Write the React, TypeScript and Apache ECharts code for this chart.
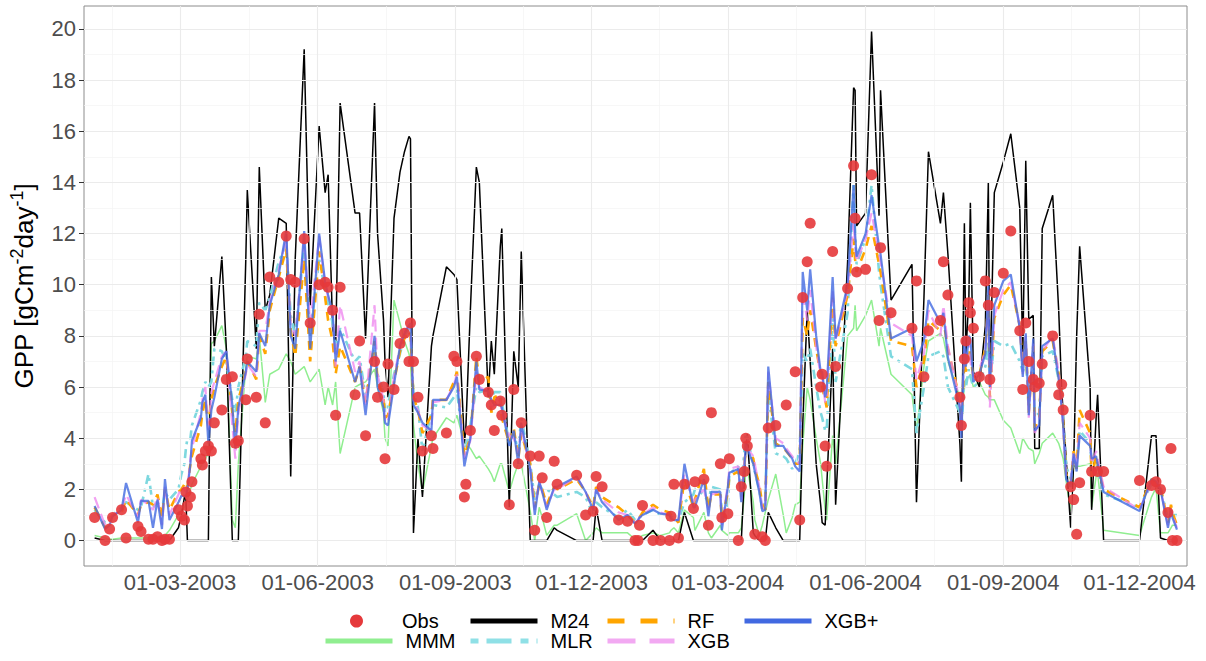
import { useEffect, useRef } from "react";
import * as echarts from "echarts";

// Sampling dates of the GPP series
const dates = [
  "2003-01-03","2003-01-10","2003-01-13","2003-01-15","2003-01-21","2003-01-24","2003-02-01","2003-02-03","2003-02-08","2003-02-11",
  "2003-02-14","2003-02-17","2003-02-19","2003-02-22","2003-02-28","2003-03-02","2003-03-04","2003-03-05","2003-03-06","2003-03-08",
  "2003-03-09","2003-03-15","2003-03-16","2003-03-18","2003-03-20","2003-03-22","2003-03-24","2003-03-29","2003-04-01","2003-04-05",
  "2003-04-07","2003-04-09","2003-04-14","2003-04-15","2003-04-21","2003-04-23","2003-04-27","2003-04-30","2003-05-06","2003-05-11",
  "2003-05-14","2003-05-17","2003-05-23","2003-05-27","2003-06-02","2003-06-06","2003-06-08","2003-06-11","2003-06-13","2003-06-16",
  "2003-06-26","2003-06-29","2003-07-03","2003-07-09","2003-07-11","2003-07-15","2003-07-16","2003-07-18","2003-07-22","2003-07-26",
  "2003-07-29","2003-08-01","2003-08-02","2003-08-04","2003-08-07","2003-08-10","2003-08-16","2003-08-17","2003-08-26","2003-08-31",
  "2003-09-02","2003-09-07","2003-09-08","2003-09-11","2003-09-15","2003-09-17","2003-09-23","2003-09-25","2003-09-27","2003-10-01",
  "2003-10-02","2003-10-07","2003-10-10","2003-10-13","2003-10-15","2003-10-21","2003-10-24","2003-10-27","2003-10-29","2003-11-01",
  "2003-11-06","2003-11-08","2003-11-21","2003-11-27","2003-12-02","2003-12-04","2003-12-08","2003-12-19","2003-12-25","2003-12-30",
  "2004-01-01","2004-01-02","2004-01-04","2004-01-11","2004-01-16","2004-01-22","2004-01-23","2004-01-25","2004-01-28","2004-02-01",
  "2004-02-07","2004-02-08","2004-02-14","2004-02-17","2004-02-19","2004-02-25","2004-02-26","2004-03-01","2004-03-02","2004-03-08",
  "2004-03-10","2004-03-12","2004-03-13","2004-03-14","2004-03-18","2004-03-19","2004-03-22","2004-03-24","2004-03-26","2004-03-28",
  "2004-04-02","2004-04-07","2004-04-09","2004-04-13","2004-04-15","2004-04-18","2004-04-20","2004-04-23","2004-04-25","2004-04-29",
  "2004-05-02","2004-05-03","2004-05-05","2004-05-06","2004-05-10","2004-05-12","2004-05-20","2004-05-24","2004-05-25","2004-05-26",
  "2004-06-01","2004-06-05","2004-06-10","2004-06-11","2004-06-18","2004-07-02","2004-07-05","2004-07-10","2004-07-13","2004-07-21",
  "2004-07-23","2004-07-26","2004-08-03","2004-08-04","2004-08-06","2004-08-07","2004-08-09","2004-08-10","2004-08-12","2004-08-16",
  "2004-08-20","2004-08-22","2004-08-23","2004-08-26","2004-09-01","2004-09-06","2004-09-12","2004-09-14","2004-09-16","2004-09-18",
  "2004-09-21","2004-09-22","2004-09-25","2004-09-27","2004-10-04","2004-10-08","2004-10-10","2004-10-11","2004-10-13","2004-10-16",
  "2004-10-18","2004-10-20","2004-10-22","2004-10-29","2004-10-30","2004-11-02","2004-11-03","2004-11-07","2004-12-01","2004-12-09",
  "2004-12-12","2004-12-15","2004-12-20","2004-12-22","2004-12-23","2004-12-26",
];

// Observed GPP (null = no observation on that date)
const obs = [
  0.9, 0, 0.45, 0.9, 1.2, 0.1, 0.55, 0.35, 0.05, 0.05,
  0.15, 0, 0.05, 0.05, 1.2, 0.95, 0.8, 1.9, 1.35, 1.7,
  2.3, 3.2, 2.95, 3.5, 3.7, 3.5, 4.6, 5.1, 6.3, 6.4,
  3.8, 3.9, 5.5, 7.1, 5.6, 8.85, 4.6, 10.3, 10.1, 11.9,
  10.2, 10.1, 11.8, 8.5, 10.0, 10.1, 9.9, 9.0, 4.9, 9.9,
  5.7, 7.8, 4.1, 7.0, 5.6, 6.0, 3.2, 6.9, 5.9, 7.7,
  8.1, 7.0, 8.5, 7.0, 5.6, 3.5, 4.1, 3.6, 4.2, 7.2,
  7.0, 1.7, 2.2, 4.3, 7.2, 6.3, 5.8, 5.3, 4.3, 5.45,
  4.9, 1.4, 5.9, 3.0, 4.6, 3.3, 0.4, 3.3, 2.45, 0.9,
  3.1, 2.2, 2.55, 1.0, 1.15, 2.5, 2.1, 0.8, 0.75, 0,
  0, 0.6, 1.37, 0, 0, 0, 0.95, 2.2, 0.1, 2.2,
  1.25, 2.3, 2.4, 0.6, 5.0, 3.0, 0.9, 1.05, 3.2, 0,
  2.1, 2.7, 4.0, 3.7, null, 0.25, null, 0.15, 0, 4.4,
  4.5, null, 5.3, null, 6.6, 0.8, 9.5, 10.9, 12.4, null,
  6.0, 6.5, 3.7, 2.9, 11.3, 6.8, 9.85, 14.65, 12.6, 10.5,
  10.6, 14.3, 8.6, 11.45, 8.9, 8.3, 10.15, 6.4, 8.2, 8.6,
  10.9, 9.6, 5.6, 4.5, 7.1, 7.8, 9.3, 8.9, 8.3, 6.4,
  10.15, 9.2, 6.3, 9.7, 10.45, 12.1, 8.2, 5.9, 8.5, 7.0,
  6.3, 6.0, 6.15, 6.9, 8.0, 5.7, 6.1, 5.1, null, 2.1,
  1.6, 0.25, 2.26, 4.9, 2.7, null, 2.7, 2.7, 2.35, 2.15,
  2.3, 2.0, 1.1, 3.6, 0, 0,
];

const m24 = [
  0.1, 0, 0, 0, 0, 0, 0, 0, 0, 0,
  0, 0, 0, 0, 0.5, 1.0, 1.7, 1.6, 0, 0,
  0, 0, 0, 0, 0, 10.3, 7.6, 11.1, 7.5, 0,
  0, 0, 11.0, 13.7, 7.5, 14.6, 9.0, 9.6, 12.6, 12.4,
  2.5, 11.0, 19.2, 9.2, 16.2, 13.6, 14.3, 8.3, 7.5, 17.1,
  12.8, 12.8, 7.9, 17.1, 12.0, 8.6, 7.0, 5.6, 12.6, 14.4,
  15.2, 15.8, 15.7, 0.3, 4.0, 1.7, 7.6, 8.0, 10.7, 10.4,
  10.2, 3.8, 4.4, 9.0, 14.6, 14.0, 5.6, 7.8, 6.5, 11.5,
  12.2, 1.3, 7.4, 6.0, 11.3, 0, 0, 0, 0, 0,
  0.5, 0.4, 0, 0, 0, 1.3, 0, 0, 0, 0,
  0, 0, 0, 0.4, 0, 0, 0, 0, 0, 1.1,
  0, 0, 0, 0, 0, 0, 0, 0, 0, 0,
  0, 2.5, 3.6, 4.15, 0.3, 0.2, 0, 0, 0, 1.1,
  0.5, 0, 0, 0, 0, 0, 4.5, 9.0, 7.0, 3.0,
  1.4, 0.7, 0.6, 2.0, 7.5, 1.4, 10.9, 17.7, 17.6, 12.3,
  12.8, 19.9, 12.7, 17.6, 9.4, 10.8, 1.5, 9.5, 15.2, 12.4,
  13.6, 11.2, 3.8, 2.3, 12.4, 7.3, 9.5, 13.2, 6.6, 6.0,
  8.4, 14.0, 6.0, 13.6, 14.8, 15.9, 13.0, 7.2, 14.85, 8.65,
  8.8, 3.6, 3.6, 12.2, 13.5, 9.0, 5.9, 5.0, 3.2, 0.5,
  3.0, 8.0, 11.5, 6.0, 1.2, 4.8, 5.7, 0, 0, 4.1,
  4.1, 0.1, 0, 0, 0, 0,
];

const mmm = [
  0.2, 0.1, 0.05, 0.05, 0.1, 0.1, 0.1, 0.1, 0.1, 0.1,
  0.1, 0.15, 0.2, 0.4, 1.0, 1.2, 1.3, 1.4, 1.6, 2.0,
  2.2, 2.9, 3.0, 3.2, 3.4, 7.7, 7.8, 8.4, 7.5, 0.8,
  0.5, 3.0, 6.8, 7.2, 7.1, 8.0, 5.4, 6.5, 6.7, 7.3,
  7.0, 6.5, 6.8, 6.2, 6.7, 5.3, 6.0, 5.3, 6.2, 3.4,
  6.0, 6.1, 6.2, 6.7, 6.0, 5.0, 4.0, 3.7, 9.4, 8.5,
  7.8, 7.3, 7.0, 4.5, 3.0, 1.9, 3.7, 4.0, 4.8, 4.6,
  4.9, 3.8, 3.8, 3.6, 3.2, 3.3, 2.8, 2.6, 2.3, 3.0,
  3.0, 1.9, 2.5, 3.0, 3.0, 1.15, 0, 1.3, 0.9, 0.2,
  0.6, 0.6, 1.05, 0, 0.3, 0.5, 0.3, 0.3, 0.3, 0.05,
  0, 0.1, 0.2, 0.3, 0.2, 0.3, 0.4, 0.5, 0.3, 1.2,
  0.9, 0.4, 1.1, 0.3, 0.1, 0.6, 0.4, 0.2, 0.3, 0.3,
  0.5, 1.8, 2.8, 2.8, 1.5, 0.8, 0.2, 0.6, 1.1, 1.6,
  2.6, 1.0, 0.3, 0.9, 1.4, 1.5, 3.7, 6.0, 5.5, 4.0,
  3.0, 2.4, 1.2, 0.8, 4.1, 3.0, 8.0, 8.3, 9.2, 8.2,
  8.8, 9.4, 7.6, 8.3, 6.5, 5.7, 4.3, 6.8, 7.8, 8.1,
  7.9, 7.0, 5.6, 4.8, 6.0, 6.3, 6.4, 6.5, 6.0, 6.2,
  5.7, 5.6, 5.5, 5.5, 4.7, 4.4, 3.4, 4.0, 3.8, 3.6,
  3.5, 3.0, 3.4, 3.8, 4.2, 3.8, 3.4, 3.2, 2.3, 1.15,
  2.9, 2.9, 2.9, 3.0, 1.3, 2.5, 2.65, 0.4, 0.2, 1.7,
  2.06, 0.3, 0.3, 0.5, 0.6, 0.6,
];

const mlr = [
  1.2, 0.7, 0.9, 1.0, 1.3, 1.5, 1.2, 1.3, 2.6, 1.3,
  1.5, 1.2, 1.9, 1.6, 2.0, 2.6, 3.0, 3.6, 4.0, 4.0,
  4.5, 5.5, 5.8, 6.2, 6.0, 6.2, 7.5, 7.4, 7.0, 5.5,
  5.0, 6.0, 7.2, 7.8, 7.6, 9.3, 9.0, 9.5, 10.9, 11.6,
  8.8, 8.0, 11.5, 8.0, 11.0, 9.8, 9.3, 8.5, 7.5, 8.3,
  7.0, 7.2, 5.6, 7.5, 6.5, 5.8, 5.0, 5.3, 6.5, 7.3,
  8.0, 8.3, 8.0, 5.8, 5.2, 3.5, 5.0, 5.3, 5.2, 5.6,
  5.9, 3.4, 3.6, 4.5, 6.0, 5.8, 5.9, 5.6, 5.8, 5.8,
  5.4, 3.8, 4.2, 3.5, 4.8, 3.0, 1.6, 2.2, 2.0, 2.0,
  1.8, 1.7, 1.9, 1.7, 1.0, 1.5, 1.3, 0.9, 1.2, 0.8,
  0.8, 0.9, 1.0, 1.2, 1.0, 1.0, 1.0, 0.8, 0.8, 1.5,
  1.8, 2.0, 1.8, 1.5, 2.1, 2.0, 1.0, 1.4, 2.6, 2.9,
  1.9, 3.5, 4.2, 4.0, 3.0, 2.7, 2.0, 1.2, 1.5, 5.8,
  3.4, 3.3, 3.2, 2.8, 3.0, 3.5, 7.3, 7.0, 7.5, 6.0,
  5.0, 4.8, 4.3, 4.3, 8.8, 6.2, 8.9, 13.9, 12.0, 10.8,
  11.8, 13.9, 10.5, 10.0, 7.2, 6.7, 4.2, 6.0, 7.2, 7.4,
  7.2, 6.0, 5.0, 4.3, 6.3, 6.0, 6.7, 6.4, 6.0, 6.2,
  6.8, 7.8, 6.0, 7.8, 7.6, 7.7, 7.0, 6.6, 7.0, 5.5,
  7.0, 4.8, 5.0, 7.2, 7.4, 6.3, 5.8, 4.8, 2.9, 2.4,
  3.2, 3.0, 4.3, 3.8, 3.0, 3.2, 2.8, 1.8, 1.3, 2.2,
  2.3, 2.0, 0.9, 1.2, 1.0, 1.0,
];

const rf = [
  1.3, 0.5, 0.8, 1.0, 1.1, 1.6, 1.0, 1.4, 1.5, 1.4,
  1.8, 0.9, 2.0, 1.2, 1.9, 2.0, 2.2, 2.3, 2.1, 3.0,
  3.3, 4.5, 5.0, 5.5, 4.5, 5.5, 6.0, 6.8, 7.2, 5.0,
  4.2, 5.5, 6.6, 7.0, 6.3, 8.0, 7.3, 9.0, 10.3, 11.4,
  8.2, 7.2, 11.0, 7.0, 11.3, 9.5, 8.6, 7.8, 6.5, 7.6,
  6.2, 6.8, 5.4, 7.8, 6.3, 5.6, 4.8, 4.9, 6.2, 7.4,
  7.9, 8.2, 8.0, 5.6, 5.1, 4.2, 4.9, 5.5, 5.5, 6.2,
  6.6, 3.3, 3.5, 4.0, 7.2, 6.2, 6.4, 5.0, 5.6, 5.7,
  4.8, 3.8, 4.4, 3.2, 4.2, 3.0, 1.3, 2.2, 2.0, 1.4,
  2.1, 2.0, 2.4, 1.9, 1.3, 2.1, 1.7, 1.3, 1.0, 0.7,
  0.8, 0.9, 1.1, 1.4, 1.2, 1.1, 1.0, 0.9, 0.7, 2.4,
  1.3, 1.6, 2.8, 1.2, 1.8, 1.8, 0.8, 1.9, 2.5, 2.7,
  1.7, 2.8, 3.7, 3.6, 3.2, 2.8, 2.2, 1.4, 1.2, 6.2,
  3.8, 3.6, 3.5, 3.2, 3.0, 3.0, 8.7, 8.0, 9.0, 7.5,
  6.5, 6.0, 5.5, 5.2, 9.5, 7.6, 9.6, 11.8, 11.0, 10.5,
  11.4, 12.3, 10.8, 10.5, 7.8, 7.6, 6.0, 7.0, 8.6, 8.2,
  8.6, 7.5, 5.5, 4.6, 7.0, 6.6, 7.5, 7.2, 6.4, 6.5,
  7.5, 9.6, 5.6, 8.7, 9.6, 10.0, 8.4, 6.8, 7.8, 5.0,
  7.6, 4.4, 4.8, 7.4, 7.8, 6.5, 5.5, 4.6, 2.6, 2.2,
  3.5, 2.8, 5.1, 4.2, 2.5, 3.3, 3.0, 2.0, 1.3, 2.4,
  2.3, 2.1, 0.7, 1.4, 1.1, 0.6,
];

const xgb = [
  1.7, 0.6, 0.8, 1.0, 1.2, 1.8, 0.9, 1.6, 1.4, 1.2,
  1.7, 0.6, 2.1, 1.0, 1.8, 2.1, 2.0, 1.9, 2.0, 3.2,
  3.6, 5.0, 5.5, 6.0, 4.2, 5.8, 6.2, 7.2, 7.4, 4.5,
  3.2, 5.0, 6.5, 6.9, 6.4, 8.2, 8.2, 9.3, 10.6, 11.8,
  8.4, 8.0, 11.7, 8.5, 11.9, 10.0, 9.5, 9.0, 6.8, 9.2,
  6.6, 7.0, 5.3, 9.2, 6.5, 5.5, 4.6, 4.7, 6.4, 7.6,
  8.2, 8.4, 8.2, 5.4, 5.1, 4.5, 4.3, 5.4, 5.5, 6.1,
  6.5, 3.2, 3.5, 3.9, 6.6, 6.0, 5.8, 5.2, 5.3, 5.5,
  5.0, 4.1, 4.0, 3.4, 4.4, 2.8, 1.2, 2.3, 1.9, 1.3,
  2.0, 2.0, 2.5, 1.9, 1.2, 2.0, 1.6, 1.1, 1.0, 0.7,
  0.8, 0.9, 1.0, 1.3, 1.1, 1.0, 0.9, 0.85, 0.8, 2.6,
  1.5, 1.6, 2.0, 1.2, 1.8, 1.9, 0.6, 2.2, 2.8, 2.9,
  1.6, 3.0, 3.6, 3.6, 3.3, 3.0, 2.1, 1.3, 1.2, 6.6,
  4.0, 3.8, 3.6, 3.3, 3.1, 3.0, 9.8, 8.6, 9.8, 7.6,
  6.4, 6.4, 5.4, 5.6, 9.8, 7.8, 9.8, 12.5, 11.5, 10.9,
  11.8, 12.8, 11.2, 10.9, 8.5, 8.0, 6.3, 7.3, 9.0, 8.0,
  9.2, 7.6, 5.4, 4.4, 7.5, 6.9, 7.8, 7.0, 6.4, 6.7,
  7.4, 9.5, 5.2, 8.8, 9.8, 10.1, 8.4, 6.5, 8.0, 4.8,
  7.7, 4.2, 4.6, 7.4, 8.0, 6.6, 5.3, 4.5, 2.5, 2.3,
  3.5, 2.8, 4.6, 4.0, 3.0, 3.5, 3.2, 2.1, 1.2, 2.3,
  2.4, 2.0, 0.6, 1.2, 1.0, 0.5,
];

const xgbPlus = [
  1.35, 0.45, 0.6, 0.95, 1.2, 2.25, 0.7, 1.55, 1.55, 0.5,
  1.6, 0.45, 2.4, 0.8, 1.5, 1.75, 1.75, 1.7, 2.0, 3.0,
  3.9, 4.8, 5.4, 5.7, 3.8, 5.1, 5.6, 7.1, 7.4, 5.3,
  3.6, 5.2, 6.6, 7.0, 6.6, 8.1, 7.6, 9.2, 10.4, 12.1,
  8.0, 7.5, 12.1, 7.5, 12.0, 10.1, 9.6, 8.9, 7.0, 8.2,
  6.2, 6.8, 4.9, 8.0, 6.0, 5.2, 4.6, 4.5, 6.1, 7.6,
  8.1, 8.4, 8.5, 5.3, 5.0, 4.6, 4.3, 5.5, 5.5, 6.0,
  6.4, 2.9, 3.2, 4.0, 7.0, 5.9, 5.85, 5.5, 5.3, 5.3,
  5.2, 3.7, 4.3, 3.0, 4.6, 2.8, 1.0, 2.3, 1.9, 1.2,
  2.1, 2.1, 2.5, 1.9, 1.2, 2.0, 1.5, 0.8, 1.0, 0.65,
  0.8, 0.9, 1.0, 1.2, 1.05, 1.0, 0.85, 0.8, 0.8, 3.0,
  1.3, 1.3, 2.4, 0.95, 1.9, 1.9, 0.4, 2.1, 2.65, 2.8,
  1.5, 2.8, 3.8, 3.6, 3.0, 2.7, 1.9, 1.15, 1.2, 6.8,
  3.7, 3.7, 3.5, 3.2, 2.9, 2.7, 10.5, 9.0, 10.6, 8.0,
  6.6, 6.6, 5.6, 5.9, 10.3, 7.9, 10.0, 13.9, 12.0, 11.1,
  12.0, 13.5, 11.5, 11.2, 7.9, 8.3, 7.0, 7.8, 9.4, 8.5,
  8.9, 7.15, 5.2, 4.0, 8.0, 6.8, 8.0, 7.9, 6.2, 6.5,
  7.3, 9.95, 6.0, 9.2, 10.15, 10.4, 8.3, 6.4, 8.1, 4.9,
  7.9, 4.3, 4.5, 7.6, 7.9, 6.3, 5.2, 4.5, 2.4, 2.1,
  3.4, 2.7, 4.1, 3.7, 3.2, 3.3, 3.0, 1.9, 1.15, 2.4,
  2.3, 2.0, 0.5, 1.2, 0.9, 0.43,
];

// Axis breaks
const xMajorTicks = [
  "2003-03-01", "2003-06-01", "2003-09-01", "2003-12-01",
  "2004-03-01", "2004-06-01", "2004-09-01", "2004-12-01",
];
const xMinorTicks = [
  "2003-01-15", "2003-04-16", "2003-07-17", "2003-10-16T12",
  "2004-01-15T12", "2004-04-16", "2004-07-17", "2004-10-16T12",
];
const yMajorTicks = [0, 2, 4, 6, 8, 10, 12, 14, 16, 18, 20];
const yMinorTicks = [1, 3, 5, 7, 9, 11, 13, 15, 17, 19];

const FONT = '"Liberation Sans", Arial, Helvetica, sans-serif';

// Parse "YYYY-MM-DD" (optionally "THH") as a local timestamp
function toTime(s: string): number {
  const [d, t] = s.split("T");
  const [y, m, day] = d.split("-").map(Number);
  return new Date(y, m - 1, day, t ? Number(t) : 0).getTime();
}

const pad = (n: number) => (n < 10 ? "0" + n : String(n));
const fmtDate = (v: number) => {
  const d = new Date(v);
  return `${pad(d.getDate())}-${pad(d.getMonth() + 1)}-${d.getFullYear()}`;
};

const seriesData = (values: (number | null)[]) =>
  dates.map((d, i) => [toTime(d), values[i]]);

function buildOption() {
  const xMajor = xMajorTicks.map(toTime);
  const xMinor = xMinorTicks.map(toTime);

  const minorStyle = { color: "#F3F3F3", width: 0.7, type: "solid" };
  const majorStyle = { color: "#EBEBEB", width: 1.1, type: "solid" };
  const gridLines = [
    ...xMinor.map((v) => ({ xAxis: v, lineStyle: minorStyle })),
    ...yMinorTicks.map((v) => ({ yAxis: v, lineStyle: minorStyle })),
    ...xMajor.map((v) => ({ xAxis: v, lineStyle: majorStyle })),
    ...yMajorTicks.map((v) => ({ yAxis: v, lineStyle: majorStyle })),
  ];

  const line = (name: string, values: number[], lineStyle: any, z: number) => ({
    name,
    type: "line",
    data: seriesData(values),
    symbol: "none",
    silent: true,
    z,
    emphasis: { disabled: true },
    itemStyle: { color: lineStyle.color },
    lineStyle,
  });

  const legendBase = {
    orient: "horizontal",
    padding: 0,
    itemWidth: 67,
    itemHeight: 14,
    selectedMode: false,
    textStyle: { fontSize: 20, color: "#000", fontFamily: FONT, padding: [0, 0, 0, 8] },
  };
  // line keys only: hide the marker that ECharts puts in the middle of the key
  const noMarker = { opacity: 0, borderWidth: 0 };

  const obsPoints = dates
    .map((d, i) => [toTime(d), obs[i]])
    .filter((p) => p[1] !== null);

  return {
    animation: false,
    backgroundColor: "#FFFFFF",
    textStyle: { fontFamily: FONT },
    grid: {
      left: 84,
      right: 19,
      top: 6,
      bottom: 95,
      show: true,
      borderColor: "#8C8C8C",
      borderWidth: 1,
      backgroundColor: "transparent",
      outerBoundsMode: "none",
    },
    xAxis: {
      type: "value",
      min: toTime("2002-12-26T22"),
      max: toTime("2005-01-01T17"),
      splitLine: { show: false },
      axisLine: { show: false },
      axisTick: {
        show: true,
        length: 5,
        customValues: xMajor,
        lineStyle: { color: "#333333", width: 1 },
      },
      axisLabel: {
        customValues: xMajor,
        formatter: fmtDate,
        fontSize: 22,
        color: "#4D4D4D",
        fontFamily: FONT,
        margin: 5,
      },
    },
    yAxis: {
      type: "value",
      min: -0.995,
      max: 20.895,
      splitLine: { show: false },
      axisLine: { show: false },
      axisTick: {
        show: true,
        length: 5,
        customValues: yMajorTicks,
        lineStyle: { color: "#333333", width: 1 },
      },
      axisLabel: {
        customValues: yMajorTicks,
        fontSize: 22,
        color: "#4D4D4D",
        fontFamily: FONT,
        margin: 8,
      },
      name: "{a|GPP [gCm}{s|-2}{a|day}{s|-1}{a|]}",
      nameLocation: "middle",
      nameRotate: 90,
      nameGap: 44,
      nameTextStyle: {
        rich: {
          a: { fontSize: 26, color: "#000", fontFamily: FONT, lineHeight: 32 },
          s: { fontSize: 18, color: "#000", fontFamily: FONT, lineHeight: 19, verticalAlign: "top" },
        },
      },
    },
    legend: [
      {
        ...legendBase, left: 350, top: 611, itemWidth: 13, itemHeight: 13,
        formatter: (name: string) => `{g|}${name}`,
        textStyle: {
          fontSize: 20, color: "#000", fontFamily: FONT,
          rich: { g: { width: 34, height: 10 } },
        },
        data: [{ name: "Obs", icon: "circle", itemStyle: { color: "#E5393B", opacity: 1 } }],
      },
      { ...legendBase, left: 468, top: 611,
        data: [{ name: "M24", itemStyle: noMarker, lineStyle: { color: "#000000", width: 5 } }] },
      { ...legendBase, left: 605, top: 611,
        data: [{ name: "RF", itemStyle: noMarker, lineStyle: { color: "#FFA500", width: 5, type: [17, 16] } }] },
      { ...legendBase, left: 742, top: 611,
        data: [{ name: "XGB+", itemStyle: noMarker, lineStyle: { color: "#4169E1", width: 5, opacity: 1 } }] },
      { ...legendBase, left: 323, top: 631,
        data: [{ name: "MMM", itemStyle: noMarker, lineStyle: { color: "#90EE90", width: 5 } }] },
      { ...legendBase, left: 468, top: 631,
        data: [{ name: "MLR", itemStyle: noMarker, lineStyle: { color: "#8FE0E6", width: 5, type: [8, 8, 25, 9] } }] },
      { ...legendBase, left: 605, top: 631,
        data: [{ name: "XGB", itemStyle: noMarker, lineStyle: { color: "#F2A9F2", width: 5, type: [28, 14], opacity: 1 } }] },
    ],
    series: [
      {
        name: "panel-grid",
        type: "line",
        data: [[xMajor[0], null]],
        symbol: "none",
        silent: true,
        z: 1,
        markLine: {
          silent: true,
          symbol: ["none", "none"],
          label: { show: false },
          emphasis: { disabled: true },
          animation: false,
          lineStyle: { type: "solid" },
          data: gridLines,
        },
      },
      line("MMM", mmm, { color: "#90EE90", width: 1.5 }, 2),
      line("M24", m24, { color: "#000000", width: 1.5 }, 3),
      line("MLR", mlr, { color: "#7ED8DF", width: 2.6, type: [9, 5, 3, 5] }, 4),
      line("RF", rf, { color: "#FFA500", width: 2.6, type: [9, 7] }, 5),
      line("XGB", xgb, { color: "#EE82EE", width: 2.2, opacity: 0.75, type: [12, 6] }, 6),
      line("XGB+", xgbPlus, { color: "#4169E1", width: 2.2, opacity: 0.8 }, 7),
      {
        name: "Obs",
        type: "scatter",
        data: obsPoints,
        symbol: "circle",
        symbolSize: 11,
        silent: true,
        z: 8,
        emphasis: { disabled: true },
        itemStyle: { color: "#E5393B", opacity: 0.9 },
      },
    ],
  };
}

export default function App() {
  const ref = useRef<HTMLDivElement>(null);
  useEffect(() => {
    document.body.style.margin = "0";
    const chart = echarts.init(ref.current!, null, { renderer: "svg" });
    chart.setOption(buildOption() as any);
    return () => chart.dispose();
  }, []);
  return <div ref={ref} style={{ width: 1206, height: 661 }} />;
}
